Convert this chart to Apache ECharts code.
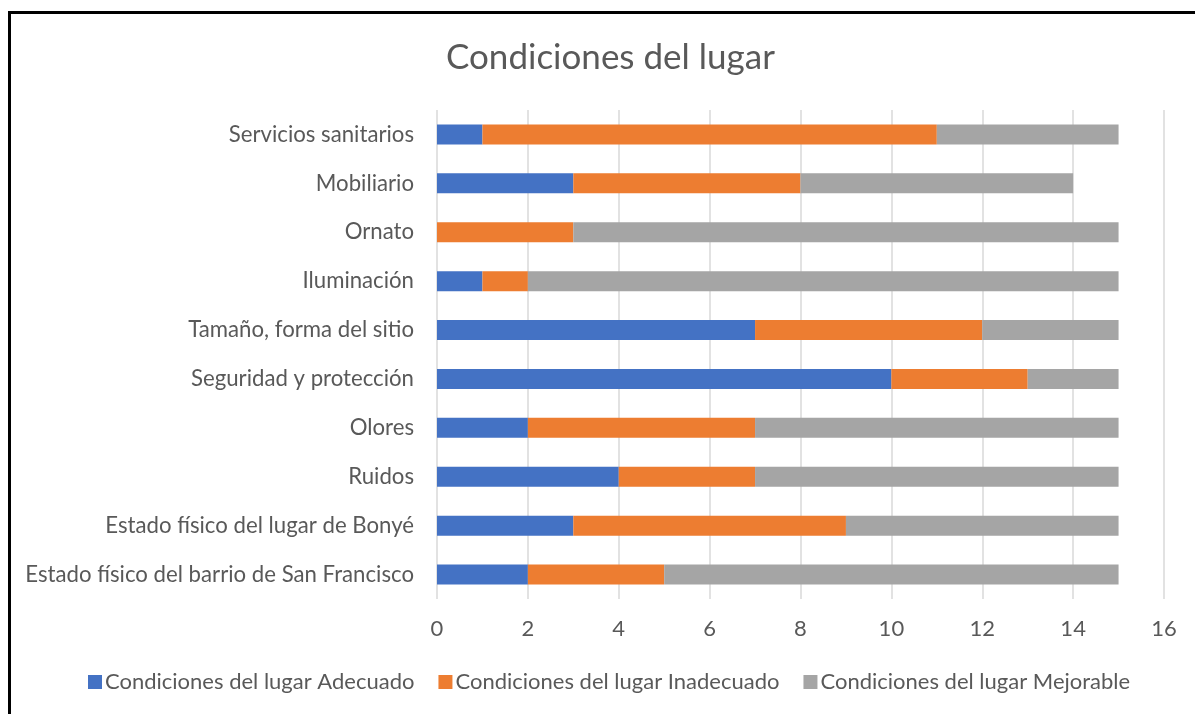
<!DOCTYPE html>
<html>
<head>
<meta charset="utf-8">
<script src="https://cdn.jsdelivr.net/npm/echarts@6/dist/echarts.min.js"></script>
<style>
  html, body { margin: 0; padding: 0; background: #fff; }
  #chart { width: 1195px; height: 714px; }
</style>
</head>
<body>
<div id="chart"></div>
<script>
// Categories, listed top to bottom
const categories = [
  'Servicios sanitarios',
  'Mobiliario',
  'Ornato',
  'Iluminación',
  'Tamaño, forma del sitio',
  'Seguridad y protección',
  'Olores',
  'Ruidos',
  'Estado físico del lugar de Bonyé',
  'Estado físico del barrio de San Francisco'
];
const adecuado   = [1, 3, 0, 1, 7, 10, 2, 4, 3, 2];
const inadecuado = [10, 5, 3, 1, 5, 3, 5, 3, 6, 3];
const mejorable  = [4, 6, 12, 13, 3, 2, 8, 8, 6, 10];
const seriesNames = [
  'Condiciones del lugar Adecuado',
  'Condiciones del lugar Inadecuado',
  'Condiciones del lugar Mejorable'
];
const colors = ['#4472C4', '#ED7D31', '#A5A5A5'];

const font = 'Lato, "Open Sans", sans-serif';
const textColor = '#595959';

const chart = echarts.init(document.getElementById('chart'), null, { renderer: 'canvas' });

const seriesData = [adecuado, inadecuado, mejorable];

chart.setOption({
  animation: false,
  color: colors,
  title: {
    text: 'Condiciones del lugar',
    left: 441,
    top: 35,
    textStyle: { fontFamily: font, fontSize: 35, fontWeight: 'normal', color: textColor }
  },
  graphic: [{
    type: 'rect',
    shape: { x: 9.5, y: 12.5, width: 1300, height: 800 },
    style: { fill: 'none', stroke: '#000', lineWidth: 3 },
    silent: true
  }],
  legend: {
    bottom: 16,
    left: 83,
    itemWidth: 14,
    itemHeight: 14,
    itemGap: 24,
    icon: 'rect',
    textStyle: { fontFamily: font, fontSize: 22, color: textColor, padding: [0, 0, 0, -2] },
    data: seriesNames
  },
  grid: { left: 437, right: 31, top: 110, bottom: 115 },
  xAxis: {
    type: 'value',
    min: 0,
    max: 16,
    interval: 2,
    axisLine: { show: false },
    axisTick: { show: false },
    splitLine: { lineStyle: { color: '#D9D9D9', width: 1.5 } },
    axisLabel: { fontFamily: font, fontSize: 22, color: textColor, margin: 19 }
  },
  yAxis: {
    type: 'category',
    inverse: true,
    data: categories,
    axisLine: { show: false },
    axisTick: { show: false },
    axisLabel: { fontFamily: font, fontSize: 22.2, color: textColor, margin: 23 }
  },
  series: seriesNames.map((name, i) => ({
    name: name,
    type: 'bar',
    stack: 'total',
    barWidth: 20,
    data: seriesData[i],
    itemStyle: { color: colors[i] }
  }))
});
</script>
</body>
</html>
